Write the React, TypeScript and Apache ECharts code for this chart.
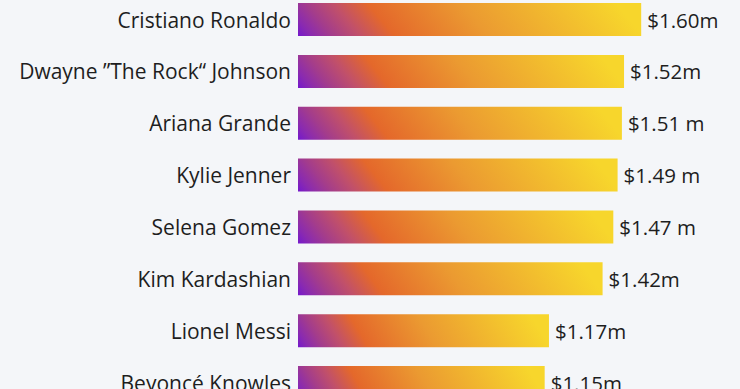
import React, { useEffect, useRef } from "react";
import * as echarts from "echarts";

const categories = [
  "Cristiano Ronaldo",
  "Dwayne ”The Rock“ Johnson",
  "Ariana Grande",
  "Kylie Jenner",
  "Selena Gomez",
  "Kim Kardashian",
  "Lionel Messi",
  "Beyoncé Knowles",
];
const values = [1.6, 1.52, 1.51, 1.49, 1.47, 1.42, 1.17, 1.15];
const valueLabels = ["$1.60m", "$1.52m", "$1.51 m", "$1.49 m", "$1.47 m", "$1.42m", "$1.17m", "$1.15m"];

const FONT = "'Open Sans', 'Noto Sans', sans-serif";

export default function App() {
  const ref = useRef<HTMLDivElement>(null);
  useEffect(() => {
    if (!ref.current) return;
    const chart = echarts.init(ref.current, null, { renderer: "svg" });
    const gradient = new echarts.graphic.LinearGradient(0, 1, 1, 0.92, [
      { offset: 0, color: "#7418cc" },
      { offset: 0.04, color: "#8a2ab0" },
      { offset: 0.1, color: "#a33c8c" },
      { offset: 0.18, color: "#c1506a" },
      { offset: 0.28, color: "#e4682b" },
      { offset: 0.55, color: "#eb9a31" },
      { offset: 1, color: "#f7d62c" },
    ]);
    chart.setOption({
      animation: false,
      backgroundColor: "#f4f6f9",
      grid: {
        left: 298,
        top: -6.4,
        height: 414.9,
        right: 13,
        containLabel: false,
        outerBoundsMode: "none",
      },
      xAxis: {
        type: "value",
        min: 0,
        max: 2,
        show: false,
      },
      yAxis: {
        type: "category",
        data: categories,
        inverse: true,
        axisLine: { show: false },
        axisTick: { show: false },
        splitLine: { show: false },
        axisLabel: {
          margin: 7,
          color: "#1e1e1e",
          fontSize: 21,
          fontFamily: FONT,
        },
      },
      series: [
        {
          type: "bar",
          data: values.map((v, i) => ({ value: v, label: { formatter: valueLabels[i] } })),
          barWidth: 33,
          itemStyle: { color: gradient },
          label: {
            show: true,
            position: "right",
            distance: 6,
            color: "#1e1e1e",
            fontSize: 20.5,
            fontFamily: FONT,
          },
        },
      ],
    });
    return () => chart.dispose();
  }, []);
  return (
    <div
      ref={ref}
      style={{ position: "fixed", left: 0, top: 0, width: 740, height: 389 }}
    />
  );
}
